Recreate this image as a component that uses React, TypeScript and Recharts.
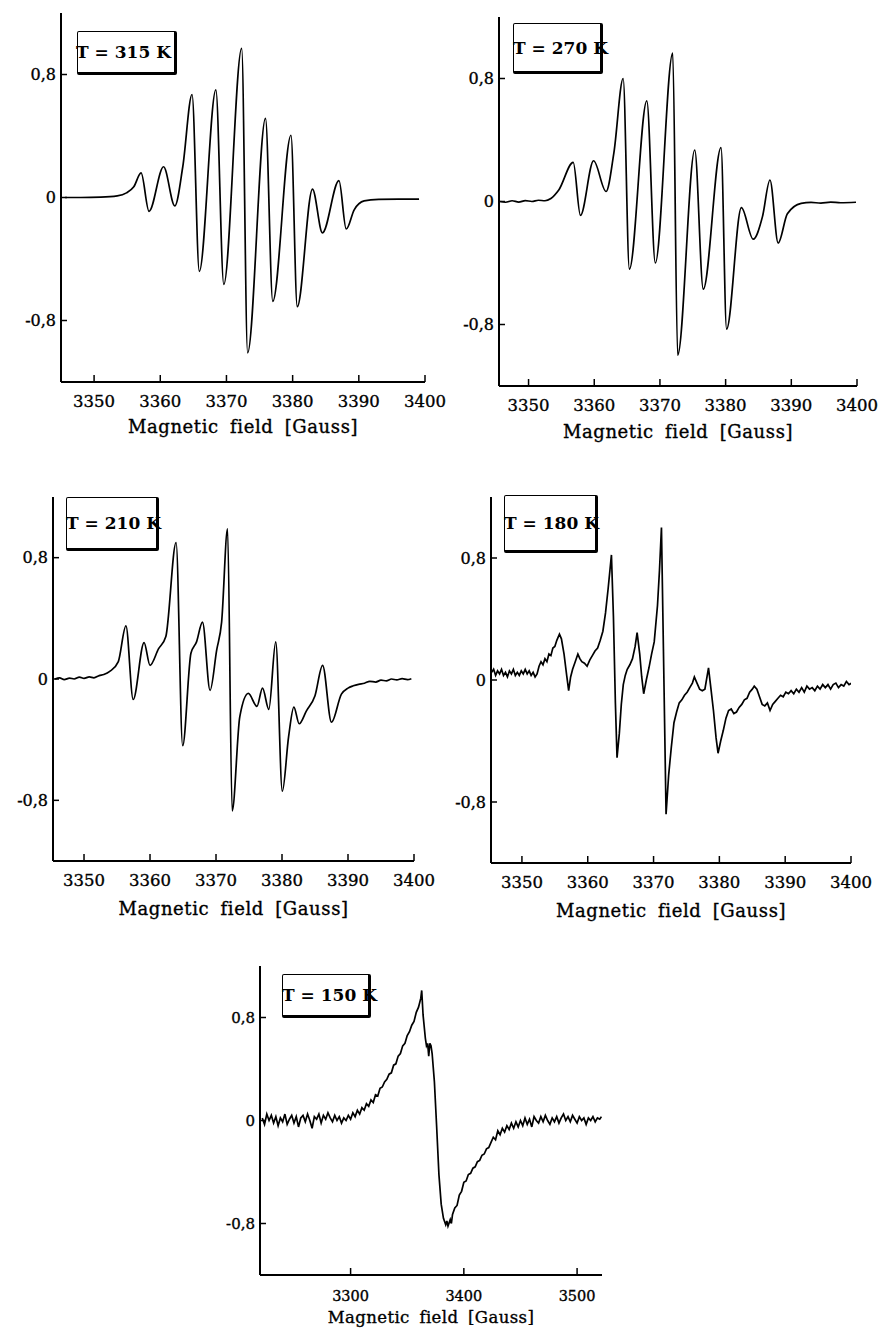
import { LineChart, Line, XAxis, YAxis } from "recharts";

type Point = [number, number];

// [field (G), signal (a.u.)]
const spectrum315: Point[] = [
  [3345.6, 0], [3348, 0.0], [3351, 0.002], [3353.5, 0.01], [3354.9, 0.03], [3356.0, 0.07],
  [3357.1, 0.16], [3358.3, -0.09], [3360.5, 0.2], [3362.2, -0.055], [3363.4, 0.2],
  [3364.8, 0.67], [3365.9, -0.48], [3368.4, 0.7], [3369.6, -0.565], [3372.3, 0.97],
  [3373.2, -1.01], [3375.9, 0.515], [3377.0, -0.675], [3379.75, 0.405], [3380.7, -0.71],
  [3383.0, 0.055], [3384.5, -0.23], [3387.0, 0.11], [3388.1, -0.205], [3389.3, -0.08],
  [3390.8, -0.022], [3393, -0.012], [3396, -0.01], [3399.1, -0.01],
];

const spectrum270: Point[] = [
  [3345.7, 0.0], [3346.5, -0.005], [3347.5, 0.005], [3348.5, -0.004], [3349.5, 0.006],
  [3350.5, 0.0], [3351.5, 0.008], [3352.5, 0.005], [3353.4, 0.02], [3354.6, 0.075],
  [3356.8, 0.255], [3357.9, -0.09], [3359.9, 0.265], [3361.8, 0.065], [3363.0, 0.32],
  [3364.4, 0.8], [3365.35, -0.44], [3368.0, 0.655], [3369.3, -0.4], [3371.95, 0.965],
  [3372.7, -1.0], [3375.3, 0.335], [3376.6, -0.57], [3379.3, 0.35], [3380.15, -0.83],
  [3382.4, -0.04], [3384.2, -0.245], [3385.6, -0.1], [3386.75, 0.14], [3388.0, -0.27],
  [3389.4, -0.08], [3391.5, -0.012], [3393, -0.006], [3394.5, -0.01], [3396, -0.004],
  [3397.5, -0.008], [3399.85, -0.005],
];

const spectrum210: Point[] = [
  [3345.6, 0.0], [3346.3, 0.008], [3347.0, -0.004], [3347.8, 0.006], [3348.5, 0.0],
  [3349.3, 0.012], [3350.0, 0.004], [3350.8, 0.014], [3351.5, 0.008], [3352.3, 0.022],
  [3353.0, 0.03], [3353.9, 0.05], [3355.2, 0.115], [3356.35, 0.35], [3357.45, -0.135],
  [3359.1, 0.24], [3360.0, 0.09], [3361.3, 0.2], [3362.4, 0.28], [3363.95, 0.9],
  [3364.95, -0.44], [3366.2, 0.17], [3367.05, 0.245], [3367.95, 0.375], [3369.1, -0.075],
  [3370.1, 0.19], [3370.85, 0.375], [3371.75, 0.99], [3372.45, -0.87], [3373.6, -0.25],
  [3374.9, -0.095], [3376.2, -0.18], [3377.05, -0.06], [3378.0, -0.2], [3379.05, 0.245],
  [3380.05, -0.74], [3381.0, -0.38], [3381.8, -0.185], [3382.6, -0.295], [3383.7, -0.21],
  [3385.0, -0.11], [3386.15, 0.09], [3387.5, -0.285], [3389.0, -0.1], [3390.0, -0.06],
  [3390.8, -0.045], [3391.6, -0.035], [3392.5, -0.028], [3393.3, -0.015], [3394.2, -0.02],
  [3395.0, -0.008], [3395.8, -0.012], [3396.6, 0.0], [3397.4, -0.006], [3398.2, 0.002],
  [3399.0, -0.004], [3399.6, 0.002],
];

const spectrum180: Point[] = [
  [3345.4, 0.05], [3345.7, 0.07], [3346.0, 0.03], [3346.3, 0.06], [3346.6, 0.04], [3346.9, 0.07],
  [3347.2, 0.03], [3347.5, 0.05], [3347.8, 0.02], [3348.1, 0.06], [3348.4, 0.04], [3348.7, 0.07],
  [3349.0, 0.03], [3349.3, 0.05], [3349.6, 0.03], [3349.9, 0.06], [3350.2, 0.04], [3350.5, 0.07],
  [3350.8, 0.04], [3351.1, 0.06], [3351.4, 0.03], [3351.7, 0.05], [3352.0, 0.02], [3352.3, 0.04],
  [3352.6, 0.09], [3352.9, 0.12], [3353.2, 0.1], [3353.5, 0.14], [3353.8, 0.12], [3354.1, 0.17],
  [3354.4, 0.16], [3354.7, 0.21], [3355.0, 0.22], [3355.3, 0.26], [3355.7, 0.3], [3356.0, 0.27],
  [3356.4, 0.17], [3356.8, 0.03], [3357.1, -0.07], [3357.4, 0.02], [3357.7, 0.07], [3358.1, 0.12],
  [3358.5, 0.17], [3358.8, 0.14], [3359.1, 0.12], [3359.5, 0.11], [3359.9, 0.09], [3360.3, 0.13],
  [3360.7, 0.16], [3361.1, 0.19], [3361.5, 0.21], [3361.9, 0.26], [3362.3, 0.32], [3362.7, 0.44],
  [3363.1, 0.6], [3363.6, 0.82], [3363.9, 0.42], [3364.2, -0.15], [3364.45, -0.51], [3364.8, -0.35],
  [3365.1, -0.16], [3365.4, -0.03], [3365.7, 0.03], [3366.0, 0.07], [3366.4, 0.1], [3366.8, 0.14],
  [3367.2, 0.22], [3367.5, 0.31], [3367.9, 0.17], [3368.2, 0.02], [3368.5, -0.09], [3368.9, 0.0],
  [3369.3, 0.08], [3369.7, 0.17], [3370.1, 0.25], [3370.6, 0.49], [3370.9, 0.72], [3371.2, 1.0],
  [3371.5, 0.2], [3371.9, -0.88], [3372.3, -0.62], [3372.7, -0.44], [3373.1, -0.28], [3373.5, -0.21],
  [3373.9, -0.15], [3374.3, -0.13], [3374.7, -0.1], [3375.1, -0.08], [3375.5, -0.05], [3375.9, -0.02],
  [3376.2, 0.02], [3376.6, -0.02], [3377.0, -0.06], [3377.4, -0.07], [3377.8, -0.06], [3378.35, 0.08],
  [3378.7, -0.05], [3379.1, -0.2], [3379.5, -0.38], [3379.8, -0.48], [3380.2, -0.4], [3380.6, -0.33],
  [3381.0, -0.25], [3381.4, -0.2], [3381.8, -0.19], [3382.2, -0.22], [3382.6, -0.21], [3383.0, -0.18],
  [3383.4, -0.16], [3383.8, -0.13], [3384.2, -0.12], [3384.6, -0.08], [3385.0, -0.06], [3385.3, -0.04],
  [3385.7, -0.06], [3386.1, -0.11], [3386.5, -0.16], [3386.9, -0.17], [3387.3, -0.15], [3387.7, -0.2],
  [3388.1, -0.16], [3388.5, -0.14], [3388.9, -0.12], [3389.3, -0.1], [3389.7, -0.11], [3390.1, -0.08],
  [3390.5, -0.09], [3390.9, -0.07], [3391.3, -0.09], [3391.7, -0.06], [3392.1, -0.08], [3392.5, -0.05],
  [3392.9, -0.08], [3393.3, -0.04], [3393.7, -0.06], [3394.1, -0.05], [3394.5, -0.07], [3394.9, -0.04],
  [3395.3, -0.06], [3395.7, -0.03], [3396.1, -0.05], [3396.5, -0.03], [3396.9, -0.06], [3397.3, -0.03],
  [3397.7, -0.02], [3398.1, -0.05], [3398.5, -0.03], [3398.9, -0.04], [3399.3, -0.01], [3399.7, -0.03],
  [3400.1, -0.02], [3400.4, -0.04],
];

const spectrum150: Point[] = [
  [3222, 0.02], [3224, -0.03], [3226, 0.05], [3228, 0.0], [3230, 0.04], [3232, -0.02], [3234, 0.03],
  [3236, -0.04], [3238, 0.02], [3240, -0.01], [3242, 0.05], [3244, -0.03], [3246, 0.01], [3248, 0.04],
  [3250, -0.02], [3252, 0.03], [3254, -0.05], [3256, 0.02], [3258, 0.04], [3260, -0.01], [3262, 0.05],
  [3264, 0.0], [3266, -0.06], [3268, 0.03], [3270, 0.01], [3272, 0.05], [3274, -0.02], [3276, 0.04],
  [3278, 0.01], [3280, 0.06], [3282, 0.02], [3284, -0.01], [3286, 0.04], [3288, 0.0], [3290, 0.03],
  [3292, -0.02], [3294, 0.02], [3296, 0.0], [3298, 0.04], [3300, 0.01], [3302, 0.06], [3304, 0.03],
  [3306, 0.08], [3308, 0.05], [3310, 0.1], [3312, 0.08], [3314, 0.13], [3316, 0.11], [3318, 0.16],
  [3320, 0.14], [3322, 0.2], [3324, 0.19], [3326, 0.25], [3328, 0.26], [3330, 0.3], [3332, 0.32],
  [3334, 0.36], [3336, 0.37], [3338, 0.43], [3340, 0.44], [3342, 0.5], [3344, 0.52], [3346, 0.58],
  [3348, 0.6], [3350, 0.66], [3352, 0.69], [3354, 0.74], [3356, 0.77], [3358, 0.84], [3360, 0.88],
  [3362, 0.95], [3362.8, 1.01], [3364, 0.82], [3366, 0.64], [3367, 0.58], [3368, 0.6], [3369, 0.5],
  [3370, 0.6], [3371, 0.58], [3372, 0.52], [3374, 0.3], [3376, -0.05], [3378, -0.42], [3380, -0.65],
  [3382, -0.76], [3384, -0.81], [3385, -0.78], [3386, -0.82], [3388, -0.77], [3389, -0.8],
  [3390, -0.73], [3392, -0.68], [3394, -0.66], [3396, -0.58], [3398, -0.55], [3400, -0.48],
  [3402, -0.47], [3404, -0.42], [3406, -0.41], [3408, -0.37], [3410, -0.36], [3412, -0.32],
  [3414, -0.31], [3416, -0.27], [3418, -0.26], [3420, -0.22], [3422, -0.21], [3424, -0.17],
  [3426, -0.13], [3428, -0.15], [3430, -0.08], [3432, -0.11], [3434, -0.06], [3436, -0.09],
  [3438, -0.04], [3440, -0.07], [3442, -0.02], [3444, -0.06], [3446, -0.01], [3448, -0.05],
  [3450, 0.0], [3452, -0.04], [3454, 0.02], [3456, -0.03], [3458, 0.01], [3460, -0.05], [3462, 0.03],
  [3464, 0.0], [3466, -0.02], [3468, 0.03], [3470, -0.01], [3472, 0.04], [3474, 0.0], [3476, -0.03],
  [3478, 0.02], [3480, -0.01], [3482, 0.03], [3484, -0.02], [3486, 0.02], [3488, 0.05], [3490, 0.0],
  [3492, 0.03], [3494, -0.01], [3496, 0.04], [3498, 0.01], [3500, -0.02], [3502, 0.03], [3504, 0.0],
  [3506, 0.02], [3508, -0.03], [3510, 0.02], [3512, 0.0], [3514, 0.03], [3516, -0.01], [3518, 0.02],
  [3520, 0.01], [3521.5, 0.03],
];

const fieldTicksNarrow = [3350, 3360, 3370, 3380, 3390, 3400];
const fieldTicksWide = [3300, 3400, 3500];
const signalTicks = [-0.8, 0, 0.8];
const axisTitle = "Magnetic field [Gauss]";

const SERIF = '"DejaVu Serif", serif';

interface Rect {
  left: number;
  top: number;
  right: number;
  bottom: number;
}

interface PanelProps {
  data: Point[];
  label: string;
  ticks: number[];
  domain: [number, number];
  plot: Rect;
  box: Rect;
  textShift: number;
  titleDrop: number;
  smooth: boolean;
  small?: boolean;
}

function formatSignal(v: number) {
  if (v === 0) return "0";
  return v.toFixed(1).replace(".", ",");
}

function SpectrumPanel({ data, label, ticks, domain, plot, box, textShift, titleDrop, smooth, small }: PanelProps) {
  const yAxisWidth = 60;
  const marginTop = 5;
  const marginRight = 28;
  const xAxisHeight = 70;
  const width = yAxisWidth + (plot.right - plot.left) + marginRight;
  const height = marginTop + (plot.bottom - plot.top) + xAxisHeight;
  const rows = data.map(([field, signal]) => ({ field, signal }));
  // scanned print is heavy, so give the glyphs a thin outline
  const ink = { fill: "#000", stroke: "#000", strokeWidth: 0.35, fontFamily: SERIF };

  return (
    <>
      <div style={{ position: "absolute", left: plot.left - yAxisWidth, top: plot.top - marginTop }}>
        <LineChart
          width={width}
          height={height}
          data={rows}
          margin={{ top: marginTop, right: marginRight, bottom: 0, left: 0 }}
        >
          <XAxis
            type="number"
            dataKey="field"
            domain={domain}
            ticks={ticks}
            interval={0}
            allowDataOverflow
            height={xAxisHeight}
            tickSize={-7}
            tickMargin={small ? 23 : 20}
            axisLine={{ stroke: "#000", strokeWidth: 2 }}
            tickLine={{ stroke: "#000", strokeWidth: 1.5 }}
            tick={{ ...ink, fontSize: small ? 14.5 : 16.5 }}
            label={{
              value: axisTitle,
              position: "insideBottom",
              offset: xAxisHeight - titleDrop,
              ...ink,
              fontSize: small ? 16.5 : 18,
              style: { letterSpacing: small ? "0.4px" : "0.6px", wordSpacing: small ? "4px" : "5px" },
            }}
          />
          <YAxis
            type="number"
            domain={[-1.2, 1.2]}
            ticks={signalTicks}
            interval={0}
            allowDataOverflow
            width={yAxisWidth}
            tickSize={-6}
            tickMargin={11}
            tickFormatter={formatSignal}
            axisLine={{ stroke: "#000", strokeWidth: 2 }}
            tickLine={{ stroke: "#000", strokeWidth: 1.5 }}
            tick={{ ...ink, fontSize: small ? 15 : 16 }}
          />
          <Line
            type={smooth ? "monotone" : "linear"}
            dataKey="signal"
            stroke="#000"
            strokeWidth={1.7}
            dot={false}
            isAnimationActive={false}
          />
        </LineChart>
      </div>
      {/* temperature box, heavier right/bottom edge like the scan */}
      <div
        style={{
          position: "absolute",
          left: box.left,
          top: box.top,
          width: box.right - box.left,
          height: box.bottom - box.top,
          boxSizing: "border-box",
          borderStyle: "solid",
          borderColor: "#000",
          borderWidth: "1.5px 3px 3px 1.5px",
          borderRadius: 2,
        }}
      >
        <span
          style={{
            position: "absolute",
            left: textShift,
            top: 0,
            bottom: 0,
            display: "flex",
            alignItems: "center",
            fontFamily: SERIF,
            fontWeight: 700,
            fontSize: 17,
            whiteSpace: "nowrap",
            color: "#000",
          }}
        >
          {label}
        </span>
      </div>
    </>
  );
}

export default function App() {
  return (
    <div style={{ position: "absolute", left: 0, top: 0, width: 882, height: 1334, background: "#fff" }}>
      <SpectrumPanel
        data={spectrum315}
        label="T = 315 K"
        ticks={fieldTicksNarrow}
        domain={[3345, 3400]}
        plot={{ left: 61, top: 13, right: 425, bottom: 382 }}
        box={{ left: 77, top: 31, right: 177, bottom: 75 }}
        textShift={-2}
        titleDrop={51}
        smooth
      />
      <SpectrumPanel
        data={spectrum270}
        label="T = 270 K"
        ticks={fieldTicksNarrow}
        domain={[3345.5, 3400]}
        plot={{ left: 499, top: 17, right: 857, bottom: 386 }}
        box={{ left: 513, top: 23, right: 603, bottom: 74 }}
        textShift={-1}
        titleDrop={52}
        smooth
      />
      <SpectrumPanel
        data={spectrum210}
        label="T = 210 K"
        ticks={fieldTicksNarrow}
        domain={[3345.3, 3400]}
        plot={{ left: 53, top: 497, right: 414, bottom: 861 }}
        box={{ left: 66, top: 497, right: 159, bottom: 551 }}
        textShift={-1}
        titleDrop={54}
        smooth
      />
      <SpectrumPanel
        data={spectrum180}
        label="T = 180 K"
        ticks={fieldTicksNarrow}
        domain={[3345.3, 3400]}
        plot={{ left: 491, top: 497, right: 851, bottom: 863 }}
        box={{ left: 504, top: 495, right: 598, bottom: 553 }}
        textShift={-1}
        titleDrop={54}
        smooth={false}
      />
      <SpectrumPanel
        data={spectrum150}
        label="T = 150 K"
        ticks={fieldTicksWide}
        domain={[3220, 3522]}
        plot={{ left: 260, top: 966, right: 602, bottom: 1275 }}
        box={{ left: 282, top: 974, right: 371, bottom: 1018 }}
        textShift={-1}
        titleDrop={48}
        smooth={false}
        small
      />
    </div>
  );
}
